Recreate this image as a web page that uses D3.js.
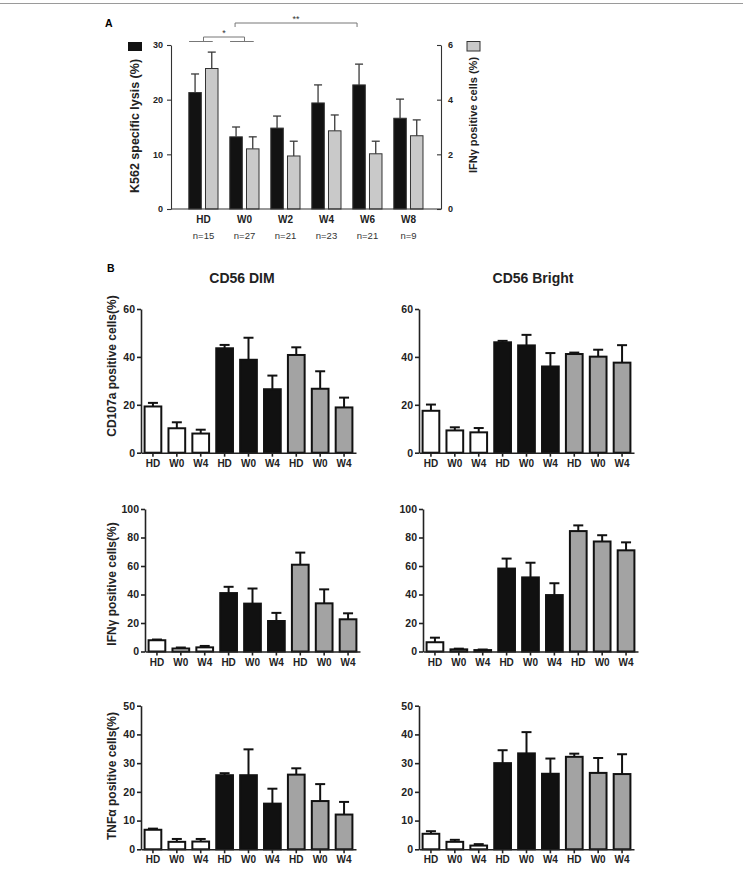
<!DOCTYPE html>
<html><head><meta charset="utf-8">
<script src="https://cdn.jsdelivr.net/npm/d3@7"></script>
<style>body{margin:0;background:#fff} svg{display:block} text{font-family:"Liberation Sans",Arial,sans-serif}</style>
</head><body><svg id="c" width="743" height="873"></svg>
<script>
// ---------- Panel A data ----------
const aGroups = ["HD","W0","W2","W4","W6","W8"];
const aN = ["n=15","n=27","n=21","n=23","n=21","n=9"];
const lysisMean = [21.3,13.2,14.8,19.4,22.7,16.6];
const lysisSem  = [3.4,1.8,2.2,3.3,3.8,3.5];
const ifnAMean  = [5.14,2.2,1.94,2.86,2.02,2.68];
const ifnASem   = [0.6,0.44,0.54,0.58,0.46,0.58];
const lysisTicks = [0,10,20,30];
const ifnATicks = [0,2,4,6];
const sigBrackets = [
  {from:"HD", to:"W0", label:"*", kind:"groups"},
  {from:"W0", to:"W6", label:"**", kind:"lysis"}
];
// ---------- Panel B data ----------
const bLabels = ["HD","W0","W4","HD","W0","W4","HD","W0","W4"];
const bSets = ["white","black","gray"];
const dimCD107a   = [19.3,10.2,8.0, 43.6,38.8,26.5, 40.8,26.7,18.9];
const dimCD107aE  = [1.5,2.5,1.6, 1.4,9.2,5.7, 3.2,7.3,4.1];
const brCD107a    = [17.5,9.3,8.5, 46.1,44.8,36.0, 41.2,40.1,37.6];
const brCD107aE   = [2.6,1.3,1.8, 0.6,4.4,5.6, 0.6,2.9,7.3];
const dimIFN      = [7.9,2.1,2.9, 41.0,33.6,21.4, 60.9,33.8,22.6];
const dimIFNE     = [0.5,0.7,1.0, 4.4,10.6,5.7, 8.5,9.8,4.2];
const brIFN       = [6.5,1.5,1.0, 58.2,52.0,39.6, 84.5,77.2,71.0];
const brIFNE      = [3.2,0.5,0.4, 7.0,10.3,8.3, 4.0,4.4,5.6];
const dimTNF      = [6.8,2.6,2.7, 25.8,25.8,15.9, 26.0,16.8,12.1];
const dimTNFE     = [0.4,1.0,0.9, 0.7,9.0,5.2, 2.2,5.9,4.4];
const brTNF       = [5.4,2.6,1.3, 30.0,33.4,26.3, 32.2,26.6,26.2];
const brTNFE      = [0.9,0.7,0.5, 4.5,7.4,5.3, 1.1,5.2,6.9];

const svg = d3.select("#c");
const FF = '"Liberation Sans",Arial,sans-serif';
svg.append("line").attr("x1",0).attr("x2",743).attr("y1",3.5).attr("y2",3.5).attr("stroke","#9a9a9a").attr("stroke-width",1);

// ================= Panel A =================
const axL=171, axR=441, aBot=209, aTop=45;
const xA = d3.scaleBand().domain(aGroups).range([axL,axR]).paddingInner(0).paddingOuter(0.293);
const xSub = d3.scaleBand().domain(["lysis","ifn"]).range([5.8,35]).paddingInner(0.25);
const yL = d3.scaleLinear().domain([0,30]).range([aBot,aTop]);
const yR = d3.scaleLinear().domain([0,6]).range([aBot,aTop]);
const gA = svg.append("g");
svg.append("text").attr("x",105).attr("y",27).attr("font-size",10.5).attr("font-weight","bold").text("A");

const aData = aGroups.map((g,i)=>({g, lm:lysisMean[i], ls:lysisSem[i], im:ifnAMean[i], is:ifnASem[i]}));
gA.selectAll("rect.l").data(aData).join("rect").attr("class","l")
  .attr("x",d=>xA(d.g)+xSub("lysis")).attr("width",xSub.bandwidth())
  .attr("y",d=>yL(d.lm)).attr("height",d=>aBot-yL(d.lm))
  .attr("fill","#121212").attr("stroke","#333").attr("stroke-width",1);
gA.selectAll("rect.i").data(aData).join("rect").attr("class","i")
  .attr("x",d=>xA(d.g)+xSub("ifn")).attr("width",xSub.bandwidth())
  .attr("y",d=>yR(d.im)).attr("height",d=>aBot-yR(d.im))
  .attr("fill","#c9c9c9").attr("stroke","#333").attr("stroke-width",1);
function errA(sel, sub, yS, m, s){
  const cx = d=>xA(d.g)+xSub(sub)+xSub.bandwidth()/2;
  sel.append("line").attr("x1",cx).attr("x2",cx).attr("y1",d=>yS(d[m])).attr("y2",d=>yS(d[m]+d[s]));
  sel.append("line").attr("x1",d=>cx(d)-4).attr("x2",d=>cx(d)+4).attr("y1",d=>yS(d[m]+d[s])).attr("y2",d=>yS(d[m]+d[s]));
}
const eA = gA.selectAll("g.e").data(aData).join("g").attr("class","e").attr("stroke","#3a3a3a").attr("stroke-width",1.3);
errA(eA,"lysis",yL,"lm","ls");
errA(eA,"ifn",yR,"im","is");
const axAL = gA.append("g").attr("transform",`translate(${axL},0)`)
  .call(d3.axisLeft(yL).tickValues(lysisTicks).tickFormat(d3.format("d")).tickSize(4).tickSizeOuter(0).tickPadding(4));
const axAR = gA.append("g").attr("transform",`translate(${axR},0)`)
  .call(d3.axisRight(yR).tickValues(ifnATicks).tickFormat(d3.format("d")).tickSize(-4).tickSizeOuter(0).tickPadding(7));
[axAL,axAR].forEach(a=>{
  a.selectAll("path,line").attr("stroke","#333").attr("stroke-width",1.1);
  a.selectAll("text").attr("font-family",FF).attr("font-size",9).attr("font-weight","bold").attr("fill","#222");
});
gA.append("line").attr("x1",axL).attr("x2",axR).attr("y1",aBot).attr("y2",aBot).attr("stroke","#333").attr("stroke-width",1.1);
gA.selectAll("text.xl").data(aGroups).join("text").attr("class","xl")
  .attr("x",d=>xA(d)+xA.bandwidth()/2).attr("y",223).attr("text-anchor","middle")
  .attr("font-size",10).attr("font-weight","bold").attr("fill","#222").text(d=>d);
gA.selectAll("text.nl").data(aN).join("text").attr("class","nl")
  .attr("x",(d,i)=>xA(aGroups[i])+xA.bandwidth()/2).attr("y",239).attr("text-anchor","middle")
  .attr("font-size",9.5).attr("fill","#333").text(d=>d);
gA.append("text").attr("transform","translate(139,126) rotate(-90)").attr("text-anchor","middle")
  .attr("font-size",12.5).attr("font-weight","bold").attr("fill","#222").text("K562 specific lysis (%)");
gA.append("text").attr("transform","translate(477,115) rotate(-90)").attr("text-anchor","middle")
  .attr("font-size",11).attr("font-weight","bold").attr("fill","#222").text("IFNγ positive cells (%)");
gA.append("rect").attr("x",128).attr("y",42).attr("width",14).attr("height",9).attr("fill","#121212");
gA.append("rect").attr("x",467).attr("y",41.5).attr("width",13).attr("height",9.5).attr("fill","#c9c9c9").attr("stroke","#333").attr("stroke-width",1);
const gS = gA.append("g").attr("stroke","#777").attr("stroke-width",1).attr("fill","none");
sigBrackets.forEach(b=>{
  if(b.kind==="groups"){
    const c1 = xA(b.from)+xA.bandwidth()/2, c2 = xA(b.to)+xA.bandwidth()/2;
    [b.from,b.to].forEach(g=>{
      const l = xA(g)+xSub("lysis")+xSub.bandwidth()/2-6, r = xA(g)+xSub("ifn")+xSub.bandwidth()/2+1;
      gS.append("line").attr("x1",l).attr("x2",r).attr("y1",41.5).attr("y2",41.5);
    });
    gS.append("path").attr("d",`M${c1},41.5V37H${c2}V41.5`);
    gA.append("text").attr("x",(c1+c2)/2).attr("y",36).attr("text-anchor","middle").attr("font-size",9).attr("fill","#333").text(b.label);
  } else {
    const c1 = xA(b.from)+xSub("lysis")+xSub.bandwidth()/2-1, c2 = xA(b.to)+xSub("lysis")+xSub.bandwidth()/2-2;
    gS.append("path").attr("d",`M${c1},27V23H${c2}V27`);
    gA.append("text").attr("x",(c1+c2)/2).attr("y",21.5).attr("text-anchor","middle").attr("font-size",9).attr("fill","#333").text(b.label);
  }
});

// ================= Panel B =================
svg.append("text").attr("x",107).attr("y",272).attr("font-size",10.5).attr("font-weight","bold").text("B");
svg.append("text").attr("x",242).attr("y",283).attr("text-anchor","middle").attr("font-size",14).attr("font-weight","bold").attr("fill","#222").text("CD56 DIM");
svg.append("text").attr("x",533).attr("y",283).attr("text-anchor","middle").attr("font-size",14).attr("font-weight","bold").attr("fill","#222").text("CD56 Bright");
const bFill = {white:"#ffffff", black:"#111111", gray:"#a3a3a3"};

function drawB(left, bottom, top, ymax, ticks, vals, errs, label, labelY){
  const x = d3.scaleBand().domain(d3.range(vals.length)).range([left,left+215]).paddingInner(0.3).paddingOuter(0.15);
  const y = d3.scaleLinear().domain([0,ymax]).range([bottom,top]);
  const g = svg.append("g");
  const data = vals.map((v,i)=>({i, v, e:errs[i], set:bSets[Math.floor(i/3)]}));
  const cx = d=>x(d.i)+x.bandwidth()/2;
  const eg = g.append("g").attr("stroke","#111").attr("stroke-width",2);
  eg.selectAll("line.s").data(data).join("line").attr("class","s")
    .attr("x1",cx).attr("x2",cx).attr("y1",d=>y(d.v)).attr("y2",d=>y(d.v+d.e));
  eg.selectAll("line.c").data(data).join("line").attr("class","c")
    .attr("x1",d=>cx(d)-5).attr("x2",d=>cx(d)+5).attr("y1",d=>y(d.v+d.e)).attr("y2",d=>y(d.v+d.e));
  g.selectAll("rect").data(data).join("rect")
    .attr("x",d=>x(d.i)).attr("width",x.bandwidth())
    .attr("y",d=>y(d.v)).attr("height",d=>bottom-y(d.v))
    .attr("fill",d=>bFill[d.set]).attr("stroke","#111").attr("stroke-width",2);
  const ya = g.append("g").attr("transform",`translate(${left},0)`)
    .call(d3.axisLeft(y).tickValues(ticks).tickSize(4).tickSizeOuter(0).tickPadding(2));
  const xa = g.append("g").attr("transform",`translate(0,${bottom})`)
    .call(d3.axisBottom(x).tickFormat(i=>bLabels[i]).tickSize(4).tickSizeOuter(0).tickPadding(3));
  [ya,xa].forEach(a=>{
    a.selectAll("path,line").attr("stroke","#222").attr("stroke-width",1.6);
    a.selectAll("text").attr("font-family",FF).attr("font-weight","bold").attr("fill","#222");
  });
  ya.selectAll("text").attr("font-size",10.5);
  xa.selectAll("text").attr("font-size",10);
  if(label){
    g.append("text").attr("transform",`translate(116,${labelY}) rotate(-90)`).attr("text-anchor","middle")
      .attr("font-size",12).attr("font-weight","bold").attr("fill","#222").text(label);
  }
}
drawB(141, 452.7, 309, 60, [0,20,40,60], dimCD107a, dimCD107aE, "CD107a positive cells(%)", 366);
drawB(419, 452.7, 309, 60, [0,20,40,60], brCD107a, brCD107aE, null);
drawB(145, 651.5, 509, 100, [0,20,40,60,80,100], dimIFN, dimIFNE, "IFNγ positive cells(%)", 584);
drawB(423, 651.5, 509, 100, [0,20,40,60,80,100], brIFN, brIFNE, null);
drawB(141, 849.3, 705.7, 50, [0,10,20,30,40,50], dimTNF, dimTNFE, "TNFα positive cells(%)", 776);
drawB(419, 849.3, 705.7, 50, [0,10,20,30,40,50], brTNF, brTNFE, null);
</script></body></html>
